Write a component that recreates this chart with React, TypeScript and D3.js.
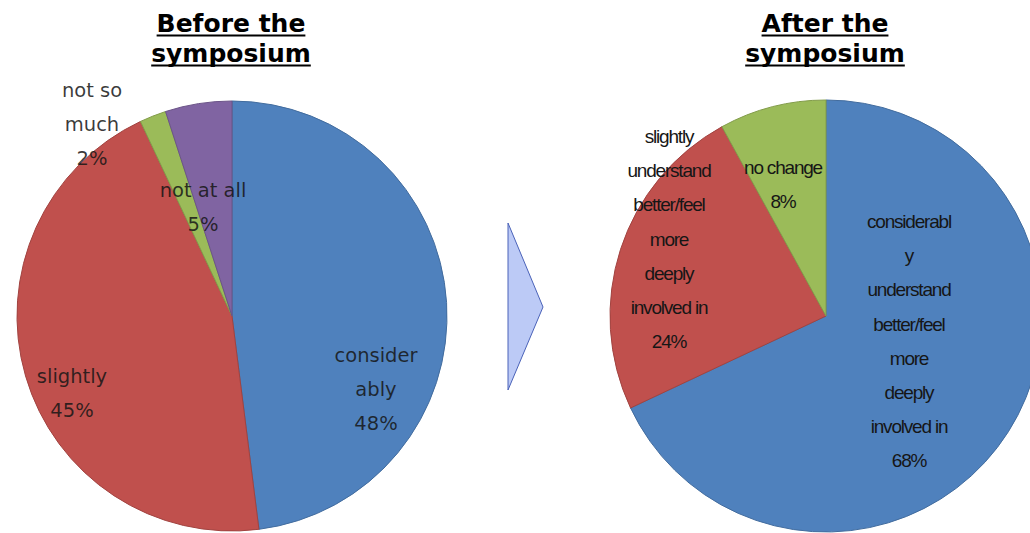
import React, { useEffect, useRef } from 'react';
import * as d3 from 'd3';

// Before the symposium
const beforeCategories = ['considerably', 'slightly', 'not so much', 'not at all'];
const beforeValues = [48, 45, 2, 5];
const beforeLabelLines = [['consider', 'ably'], ['slightly'], ['not so', 'much'], ['not at all']];

// After the symposium
const afterCategories = ['considerably understand', 'slightly understand', 'no change'];
const afterValues = [68, 24, 8];
const afterLabelLines = [
  ['considerabl', 'y', 'understand', 'better/feel', 'more', 'deeply', 'involved in'],
  ['slightly', 'understand', 'better/feel', 'more', 'deeply', 'involved in'],
  ['no change'],
];

const beforeColors = ['#4f81bd', '#c0504d', '#9bbb59', '#8064a2'];
const afterColors = ['#4f81bd', '#c0504d', '#9bbb59'];

const W = 1030;
const H = 533;

interface PieSpec {
  title: string[];
  cx: number;
  cy: number;
  r: number;
  categories: string[];
  values: number[];
  lines: string[][];
  colors: string[];
  // label block offsets from pie centre (first baseline)
  labelOffsets: [number, number][];
  lineGap: number;
  font: string;
  fontSize: number;
  letterSpacing: number;
  textOpacity: number;
}

const specs: PieSpec[] = [
  {
    title: ['Before the', 'symposium'],
    cx: 232,
    cy: 316,
    r: 215,
    categories: beforeCategories,
    values: beforeValues,
    lines: beforeLabelLines,
    colors: beforeColors,
    labelOffsets: [[144, 46], [-160, 67], [-140, -219], [-29, -119]],
    lineGap: 34,
    font: '"DejaVu Sans", Verdana, sans-serif',
    fontSize: 19.5,
    letterSpacing: 0,
    textOpacity: 0.85,
  },
  {
    title: ['After the', 'symposium'],
    cx: 826,
    cy: 316,
    r: 216,
    categories: afterCategories,
    values: afterValues,
    lines: afterLabelLines,
    colors: afterColors,
    labelOffsets: [[83, -88], [-157, -173], [-43, -142]],
    lineGap: 34.2,
    font: '"Liberation Sans", Arial, sans-serif',
    fontSize: 19,
    letterSpacing: -1.2,
    textOpacity: 1,
  },
];

export default function App() {
  const svgRef = useRef<SVGSVGElement>(null);

  useEffect(() => {
    if (!svgRef.current) return;
    const svg = d3.select(svgRef.current);
    svg.selectAll('*').remove();

    svg.append('rect').attr('width', W).attr('height', H).attr('fill', '#fff');

    specs.forEach((s) => {
      const pie = d3.pie<number>().sort(null).startAngle(0).endAngle(2 * Math.PI);
      const arcs = pie(s.values);
      const arc = d3.arc<d3.PieArcDatum<number>>().innerRadius(0).outerRadius(s.r);

      const g = svg.append('g').attr('transform', `translate(${s.cx},${s.cy})`);

      g.selectAll('path')
        .data(arcs)
        .enter()
        .append('path')
        .attr('d', arc)
        .attr('fill', (d, i) => s.colors[i])
        .attr('stroke', (d, i) => d3.color(s.colors[i])!.darker(0.5).formatHex())
        .attr('stroke-width', 1);

      // labels
      arcs.forEach((d, i) => {
        const [dx, dy] = s.labelOffsets[i];
        const lines = [...s.lines[i], `${s.values[i]}%`];
        const t = g
          .append('text')
          .attr('text-anchor', 'middle')
          .attr('font-family', s.font)
          .attr('font-size', s.fontSize)
          .attr('letter-spacing', s.letterSpacing)
          .attr('fill', '#161616')
          .attr('fill-opacity', s.textOpacity);
        lines.forEach((ln, j) => {
          t.append('tspan')
            .attr('x', dx)
            .attr('y', dy + j * s.lineGap)
            .text(ln);
        });
      });

      // title
      const titleG = svg.append('g');
      s.title.forEach((ln, j) => {
        const y = 32 + j * 30;
        const txt = titleG
          .append('text')
          .attr('x', s.cx - 1)
          .attr('y', y)
          .attr('text-anchor', 'middle')
          .attr('font-family', '"DejaVu Sans", sans-serif')
          .attr('font-weight', 'bold')
          .attr('font-size', 25)
          .attr('fill', '#000')
          .text(ln);
        const bb = (txt.node() as SVGTextElement).getBBox();
        titleG
          .append('line')
          .attr('x1', bb.x)
          .attr('x2', bb.x + bb.width)
          .attr('y1', y + 3.5)
          .attr('y2', y + 3.5)
          .attr('stroke', '#000')
          .attr('stroke-width', 2);
      });
    });

    // arrow between the pies
    svg
      .append('path')
      .attr('d', 'M508,223 L543,307 L508,390 Z')
      .attr('fill', '#bccaf6')
      .attr('stroke', '#4a62b8')
      .attr('stroke-width', 1);
  }, []);

  return (
    <svg
      ref={svgRef}
      width={W}
      height={H}
      style={{ position: 'absolute', left: 0, top: 0, display: 'block' }}
    />
  );
}
